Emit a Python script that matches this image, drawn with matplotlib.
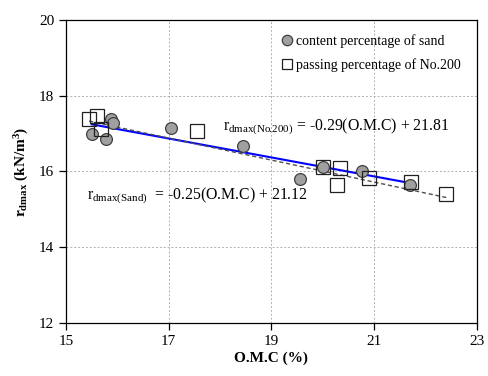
import matplotlib
matplotlib.use("Agg")
import matplotlib.pyplot as plt
import numpy as np

plt.rcParams['font.family'] = ['Liberation Serif', 'DejaVu Serif']
plt.rcParams['mathtext.fontset'] = 'custom'
plt.rcParams['mathtext.rm'] = 'Liberation Serif'
plt.rcParams['mathtext.it'] = 'Liberation Serif:italic'
plt.rcParams['mathtext.bf'] = 'Liberation Serif:bold'

# Data: content percentage of sand
sand_omc = [15.50, 15.78, 15.87, 15.91, 17.05, 18.44, 19.55, 20.01, 20.76, 21.69]
sand_rd = [16.98, 16.85, 17.38, 17.27, 17.16, 16.67, 15.80, 16.13, 16.00, 15.65]
# Data: passing percentage of No.200
no200_omc = [15.45, 15.61, 15.69, 17.55, 20.01, 20.27, 20.33, 20.90, 21.71, 22.41]
no200_rd = [17.38, 17.47, 17.12, 17.07, 16.13, 15.65, 16.10, 15.84, 15.73, 15.40]

# Fit coefficients (slope, intercept)
sand_fit = [-0.25, 21.12]
no200_fit = [-0.29, 21.81]

x_ticks = [15, 17, 19, 21, 23]
y_ticks = [12, 14, 16, 18, 20]

fig = plt.figure(figsize=(4.89, 3.76), dpi=100)
ax = fig.add_axes([0.135, 0.141, 0.840, 0.806])

ax.set_xlim(15, 23)
ax.set_ylim(12, 20)
ax.set_xticks(x_ticks)
ax.set_yticks(y_ticks)
ax.grid(True, color='#b0b0b0', linestyle=(0, (2, 2)), linewidth=0.7)
ax.set_axisbelow(True)

# fit lines
xs = np.array([min(sand_omc), max(sand_omc)])
ax.plot(xs, sand_fit[0] * xs + sand_fit[1], color='#0000ff', lw=1.5, zorder=2)
xn = np.array([min(no200_omc), max(no200_omc)])
ax.plot(xn, no200_fit[0] * xn + no200_fit[1], color='#505050', lw=1.0,
        linestyle=(0, (3, 2)), zorder=2)

ax.plot(sand_omc, sand_rd, 'o', ms=8.5, mfc='#a0a0a0', mec='#404040', mew=0.9,
        linestyle='none', label='content percentage of sand', zorder=3)
ax.plot(no200_omc, no200_rd, 's', ms=9.5, mfc='none', mec='#202020', mew=0.9,
        linestyle='none', label='passing percentage of No.200', zorder=4)

leg = ax.legend(loc='upper left', bbox_to_anchor=(0.505, 0.97), frameon=False,
                fontsize=10, handletextpad=0.0, labelspacing=0.7,
                handlelength=1.2, borderaxespad=0)
for h in leg.legend_handles:
    h.set_markersize(7.5)

ax.text(15.41, 15.36, r'$\mathrm{r}_{\mathrm{dmax(Sand)}}$  = -0.25(O.M.C) + 21.12',
        fontsize=11.3, va='center')
ax.text(18.05, 17.18, r'$\mathrm{r}_{\mathrm{dmax(No\!.\!200)}}$ = -0.29(O.M.C) + 21.81',
        fontsize=11.3, va='center')

ax.tick_params(direction='out', length=5, width=0.9, labelsize=11, top=False, right=False)
for s in ax.spines.values():
    s.set_linewidth(0.9)

ax.set_xlabel('O.M.C (%)', fontsize=11, fontweight='bold', labelpad=3)
ax.set_ylabel(r'$\mathbf{r}_{\mathbf{dmax}}$ (kN/m$^{\mathbf{3}}$)', fontsize=11,
              fontweight='bold', labelpad=6)

fig.savefig('out.png', dpi=100)
